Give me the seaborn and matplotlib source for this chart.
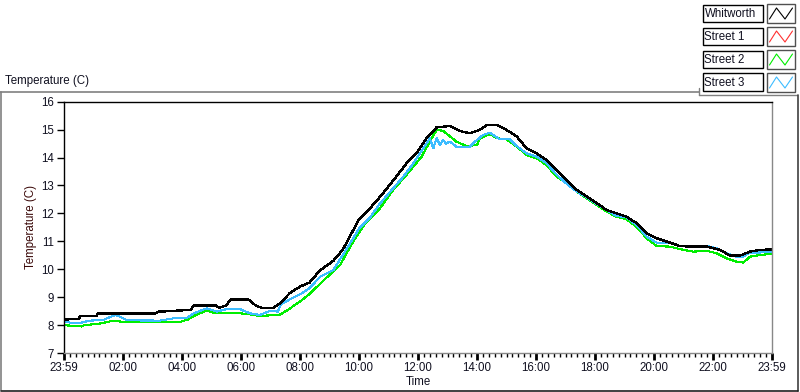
import matplotlib
matplotlib.use("Agg")
import matplotlib.pyplot as plt
import seaborn as sns
import pandas as pd
from matplotlib.lines import Line2D
from matplotlib.patches import Rectangle

# ---------------- data ----------------
series_names = ["Whitworth", "Street 1", "Street 2", "Street 3"]

whit_h = [0.0, 0.5, 0.55, 1.1, 1.15, 3.1, 3.2, 3.9, 4.3, 4.4, 5.15, 5.25, 5.5, 5.65, 6.25, 6.5, 6.7, 7.1,
          7.32, 7.66, 8.0, 8.32, 8.68, 9.13, 9.45, 9.75, 9.98, 10.37, 10.77, 11.22, 11.61, 11.95, 12.29,
          12.63, 13.08, 13.42, 13.76, 14.1, 14.33, 14.67, 15.0, 15.35, 15.68, 16.02, 16.36, 16.7, 17.04,
          17.38, 17.72, 18.06, 18.4, 18.73, 19.07, 19.41, 19.75, 20.09, 20.43, 20.88, 21.33, 21.79, 22.24,
          22.58, 22.92, 23.25, 23.59, 24.0]
whit_t = [8.2, 8.22, 8.32, 8.32, 8.42, 8.42, 8.48, 8.52, 8.55, 8.7, 8.7, 8.62, 8.7, 8.92, 8.92, 8.7, 8.62, 8.62,
          8.78, 9.15, 9.38, 9.52, 9.96, 10.3, 10.7, 11.29, 11.76, 12.18, 12.66, 13.26, 13.79, 14.15, 14.69,
          15.08, 15.13, 14.95, 14.87, 14.99, 15.17, 15.17, 14.99, 14.75, 14.33, 14.15, 13.91, 13.55, 13.2,
          12.84, 12.6, 12.36, 12.12, 12.0, 11.88, 11.65, 11.29, 11.11, 10.99, 10.83, 10.81, 10.81, 10.69,
          10.49, 10.49, 10.63, 10.69, 10.71]

street1_h = []
street1_t = []

street2_h = [0.0, 0.3, 0.6, 0.7, 1.2, 1.5, 1.7, 1.95, 3.95, 4.2, 4.45, 4.85, 5.15, 5.97, 6.2, 6.6, 7.3, 7.55,
             8.0, 8.32, 8.8, 9.36, 9.75, 10.2, 10.71, 11.16, 11.61, 12.12, 12.4, 12.63, 12.85, 13.3,
             13.65, 14.0, 14.1, 14.44, 14.67, 15.0, 15.35, 15.68, 16.02, 16.36, 16.7, 17.04, 17.38, 17.72,
             18.06, 18.4, 18.73, 19.07, 19.41, 19.75, 20.09, 20.54, 20.88, 21.33, 21.79, 22.12, 22.46, 22.8,
             23.03, 23.25, 23.59, 24.0]
street2_t = [8.0, 7.97, 7.95, 8.0, 8.05, 8.12, 8.16, 8.12, 8.12, 8.2, 8.35, 8.52, 8.42, 8.42, 8.4, 8.33, 8.36, 8.52,
             8.84, 9.11, 9.6, 10.15, 10.9, 11.62, 12.18, 12.84, 13.38, 14.03, 14.57, 14.99, 14.96, 14.57,
             14.41, 14.45, 14.69, 14.84, 14.69, 14.65, 14.39, 14.09, 13.97, 13.73, 13.31, 13.08, 12.78, 12.54,
             12.3, 12.06, 11.88, 11.79, 11.52, 11.11, 10.83, 10.81, 10.72, 10.63, 10.66, 10.57, 10.39, 10.27,
             10.24, 10.45, 10.51, 10.55]

street3_h = [0.0, 0.2, 0.55, 0.88, 1.32, 1.6, 1.75, 1.9, 2.13, 3.25, 3.7, 4.17, 4.4, 4.84, 5.18, 5.5, 5.97, 6.3,
             6.64, 7.0, 7.25, 7.35, 7.66, 8.0, 8.32, 8.68, 9.13, 9.7, 10.03, 10.37, 10.71, 11.16, 11.5, 11.84,
             12.18, 12.4, 12.52, 12.63, 12.75, 12.85, 12.95, 13.08, 13.3, 13.54, 13.76, 13.93, 14.21, 14.44,
             14.78, 15.12, 15.35, 15.68, 16.02, 16.36, 16.7, 17.04, 17.38, 17.72, 18.06, 18.4, 18.73, 19.07,
             19.41, 19.75, 20.09, 20.54, 20.88, 21.33, 21.79, 22.12, 22.46, 22.8, 23.03, 23.25, 23.59, 24.0]
street3_t = [8.15, 8.09, 8.08, 8.16, 8.18, 8.3, 8.36, 8.3, 8.17, 8.16, 8.24, 8.26, 8.42, 8.6, 8.48, 8.57, 8.57, 8.42,
             8.36, 8.52, 8.48, 8.75, 8.92, 9.1, 9.32, 9.73, 9.97, 10.93, 11.5, 11.85, 12.35, 12.9, 13.31, 13.79,
             14.33, 14.69, 14.33, 14.69, 14.45, 14.63, 14.5, 14.57, 14.39, 14.37, 14.39, 14.57, 14.81, 14.89,
             14.65, 14.65, 14.41, 14.15, 14.03, 13.79, 13.38, 13.06, 12.78, 12.58, 12.34, 12.12, 11.91, 11.86,
             11.58, 11.17, 10.95, 10.95, 10.83, 10.81, 10.83, 10.75, 10.57, 10.45, 10.45, 10.6, 10.6, 10.62]

x_tick_pos = [0, 2, 4, 6, 8, 10, 12, 14, 16, 18, 20, 22, 24]
x_tick_labels = ["23:59", "02:00", "04:00", "06:00", "08:00", "10:00", "12:00",
                 "14:00", "16:00", "18:00", "20:00", "22:00", "23:59"]
y_ticks = [7, 8, 9, 10, 11, 12, 13, 14, 15, 16]

colors = {"Whitworth": "#000000", "Street 1": "#ff3030", "Street 2": "#00ee00", "Street 3": "#3cbcff"}
widths = {"Whitworth": 1.0, "Street 1": 0.8, "Street 2": 0.8, "Street 3": 0.8}

# ---------------- figure ----------------
sns.set_style("white")
plt.rcParams["font.family"] = ["Liberation Sans", "DejaVu Sans"]

W, H = 800, 392
fig = plt.figure(figsize=(W / 100, H / 100), dpi=100)

def fx(px):
    return px / W

def fy(py):
    return 1 - py / H

ax_l, ax_r, ax_t, ax_b = 64, 772, 101.7, 353
ax = fig.add_axes([fx(ax_l), fy(ax_b), fx(ax_r) - fx(ax_l), fy(ax_t) - fy(ax_b)])

frames = {
    "Whitworth": (whit_h, whit_t),
    "Street 1": (street1_h, street1_t),
    "Street 2": (street2_h, street2_t),
    "Street 3": (street3_h, street3_t),
}
for name in ["Street 1", "Street 2", "Street 3", "Whitworth"]:
    h, t = frames[name]
    if len(h) == 0:
        continue
    df = pd.DataFrame({"hour": h, "temp": t})
    sns.lineplot(data=df, x="hour", y="temp", ax=ax, color=colors[name],
                 linewidth=widths[name], estimator=None, sort=False,
                 antialiased=False, legend=False)

ax.set_xlim(0, 24)
ax.set_ylim(7, 16)
ax.set_xticks(x_tick_pos)
ax.set_xticklabels(x_tick_labels)
ax.set_xticks([i * 0.2 for i in range(121) if i % 10 != 0], minor=True)
ax.set_yticks(y_ticks)
ax.set_yticklabels([str(v) for v in y_ticks])

txt_col = "#101020"
ax.tick_params(axis="x", which="major", direction="out", length=5, width=2, color="black",
               labelsize=8.3, labelcolor=txt_col, pad=1.5, bottom=True)
ax.tick_params(axis="x", which="minor", direction="out", length=3, width=1, color="black", bottom=True)
ax.tick_params(axis="y", which="major", direction="out", length=5, width=1, color="black",
               labelsize=8.3, labelcolor=txt_col, pad=2, left=True)

for side, col in [("left", "black"), ("top", "black"), ("right", "#888888"), ("bottom", "#888888")]:
    ax.spines[side].set_visible(True)
    ax.spines[side].set_color(col)
    ax.spines[side].set_linewidth(1.0)

ax.set_xlabel("Time", fontsize=8.3, color=txt_col)
ax.xaxis.set_label_coords(0.5, (ax_b - 376) / (ax_b - ax_t))
ax.set_ylabel("Temperature (C)", fontsize=8.3, color="#3a0808")
ax.yaxis.set_label_coords((37 - ax_l) / (ax_r - ax_l), 0.5)

# ---------------- surrounding frame ----------------
gray = "#808080"
fig.add_artist(Line2D([fx(0), fx(699)], [fy(92), fy(92)], color=gray, lw=1.2))
fig.add_artist(Line2D([fx(699), fx(699)], [fy(88), fy(95)], color=gray, lw=1.0))
fig.add_artist(Line2D([fx(699), fx(797)], [fy(95), fy(95)], color=gray, lw=1.0))
fig.add_artist(Line2D([fx(1), fx(1)], [fy(92), fy(390)], color=gray, lw=1.2))
fig.add_artist(Line2D([fx(797.5), fx(797.5)], [fy(95), fy(390.5)], color="#404040", lw=1.2))
fig.add_artist(Line2D([fx(1), fx(797.5)], [fy(390.5), fy(390.5)], color="#202020", lw=1.2))

fig.text(fx(5), fy(81), "Temperature (C)", fontsize=8.3, color=txt_col, ha="left", va="center")

# ---------------- legend boxes ----------------
for i, name in enumerate(series_names):
    top = 4.5 + 23 * i
    bot = top + 17.5
    fig.add_artist(Rectangle((fx(702.5), fy(bot)), fx(763) - fx(702.5), fy(top) - fy(bot),
                             transform=fig.transFigure, facecolor="white", edgecolor="black", lw=1.0))
    fig.text(fx(704.5), fy((top + bot) / 2 + 0.5), name, fontsize=8.3, color=txt_col,
             ha="left", va="center")
    fig.add_artist(Rectangle((fx(767), fy(bot + 0.5)), fx(795) - fx(767), fy(top - 0.5) - fy(bot + 0.5),
                             transform=fig.transFigure, facecolor="white", edgecolor="#505050", lw=1.0))
    zx = [769.5, 776.5, 785, 792.5]
    zy = [bot - 3, top + 3.5, bot - 3, top + 3.5]
    fig.add_artist(Line2D([fx(v) for v in zx], [fy(v) for v in zy], color=colors[name], lw=0.8))

fig.savefig("out.png", dpi=100, facecolor="white")
